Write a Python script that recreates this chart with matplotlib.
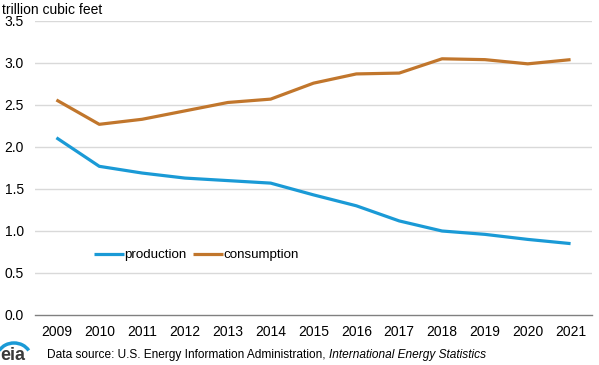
import matplotlib.pyplot as plt
from matplotlib.patches import Arc

plt.rcParams['font.family'] = ['Liberation Sans', 'DejaVu Sans']

years = list(range(2009, 2022))
production = [2.11, 1.77, 1.69, 1.63, 1.60, 1.57, 1.43, 1.30, 1.12, 1.00, 0.96, 0.90, 0.85]
consumption = [2.56, 2.27, 2.33, 2.43, 2.53, 2.57, 2.76, 2.87, 2.88, 3.05, 3.04, 2.99, 3.04]
yticks = [0.0, 0.5, 1.0, 1.5, 2.0, 2.5, 3.0, 3.5]

blue = '#1a9ad6'
brown = '#c1762c'

fig = plt.figure(figsize=(5.99, 3.65), dpi=100)
ax = fig.add_axes([35 / 599, 1 - 315 / 365, 557 / 599, 294 / 365])

ax.plot(years, production, color=blue, lw=2.3, label='production', solid_capstyle='butt')
ax.plot(years, consumption, color=brown, lw=2.3, label='consumption', solid_capstyle='butt')

ax.set_xlim(2008.5, 2021.5)
ax.set_ylim(0, 3.5)
ax.set_yticks(yticks)
ax.set_yticklabels([f'{v:.1f}' for v in yticks])
ax.set_xticks(years)
ax.set_xticklabels([str(y) for y in years])
ax.tick_params(length=0, labelsize=10, colors='black')
ax.tick_params(axis='y', pad=8)
ax.tick_params(axis='x', pad=7)
for v in yticks[1:]:
    ax.axhline(v, color='#d9d9d9', lw=1, zorder=0)
for s in ['top', 'right', 'left']:
    ax.spines[s].set_visible(False)
ax.spines['bottom'].set_color('#808080')
ax.spines['bottom'].set_linewidth(1)

ax.legend(loc='upper left', bbox_to_anchor=(0.085, 0.265), ncol=2, frameon=False,
          fontsize=9.6, handlelength=2.2, handletextpad=0.05, columnspacing=0.5)

fig.text(2 / 599, 1 - 10 / 365, 'trillion cubic feet', fontsize=10, va='center')
src = fig.text(47 / 599, 1 - 355 / 365, 'Data source: U.S. Energy Information Administration, ',
               fontsize=8.6, va='center')
fig.canvas.draw()
bb = src.get_window_extent()
fig.text(bb.x1 / 599, 1 - 355 / 365, 'International Energy Statistics', fontsize=8.6,
         style='italic', va='center')

fig.text(0, 1 - 356 / 365, 'eia', fontsize=13, fontweight='bold', color='#3a3a3a', va='center')
arc = Arc((14 / 599, 1 - 358 / 365), 34 / 599, 30 / 365, theta1=40, theta2=140,
          transform=fig.transFigure, color=blue, lw=2.5)
fig.add_artist(arc)

fig.savefig('out.png', dpi=100)
